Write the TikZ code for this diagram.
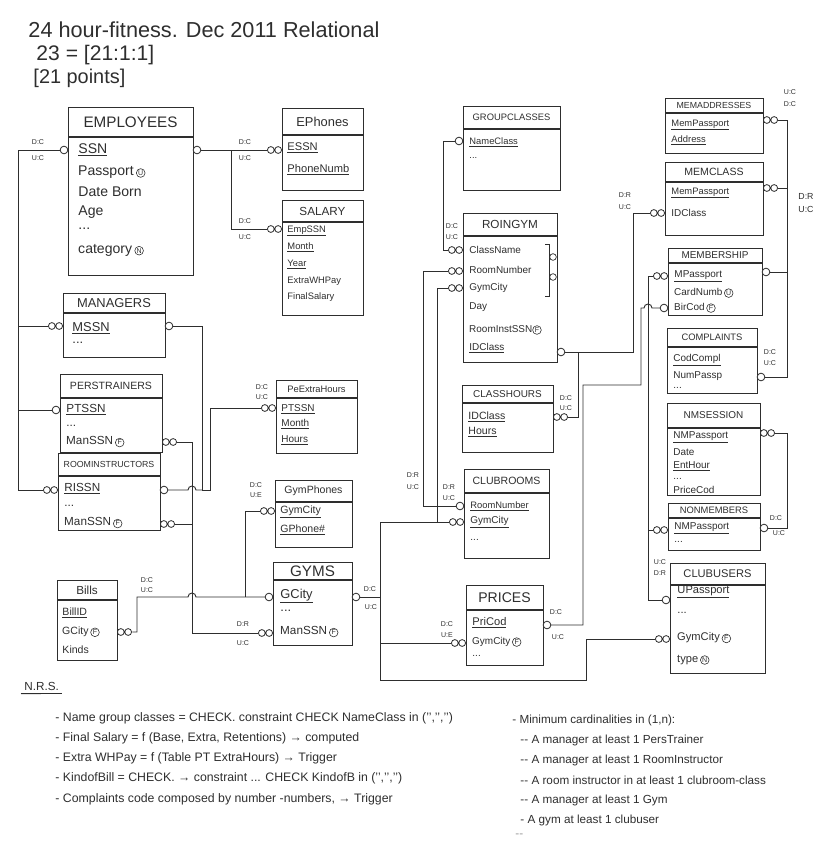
\documentclass[tikz,border=0pt]{standalone}
\usepackage{fontspec}
\setmainfont{Liberation Sans}
\newcommand\tabl[8]{%
  \node[tabbox, anchor=north west, minimum width={(#4-#2)*0.3mm}, minimum height={(#6-#3)*0.3mm}] (#1) at (#2,#3) {};
  \draw[line width=0.9pt] (#2,#5) -- (#4,#5);
  \node[hdr, fs=#7] (#1-h) at ({(#2+#4)/2},{(#3+#5)/2}) {#8};}
\newcommand\circmk[1]{\tikz[baseline=(cc.base)]\node[draw,circle,inner sep=0.5pt,minimum size=2.6mm,line width=0.5pt,font=\fontsize{6}{6}\selectfont](cc){#1};}
\begin{document}
\begin{tikzpicture}[x=0.3mm,y=-0.3mm,line width=0.8pt,color=black!82,
  tabbox/.style={draw, line width=0.9pt, inner sep=0pt},
  hdr/.style={inner sep=0pt},
  a/.style={anchor=west, inner sep=0pt},
  fs/.style={font=\fontsize{#1}{#1}\selectfont},
  card/.style={inner sep=0pt, font=\fontsize{6}{6}\selectfont},
  one/.style={circle, draw, fill=white, minimum size=2.3mm, inner sep=0pt, line width=0.7pt},
  many/.style={minimum width=4.5mm, minimum height=2.6mm, inner sep=0pt,
    path picture={\draw[line width=0.7pt] ([xshift=-1.1mm]path picture bounding box.center) circle[radius=1.02mm]
      ([xshift=1.1mm]path picture bounding box.center) circle[radius=1.02mm];}},
  conn/.style={line width=0.8pt},
  note/.style={anchor=west, inner sep=0pt, font=\fontsize{10.5}{11}\selectfont}]
\useasboundingbox (0,0) rectangle (838,848);

% ---------- title ----------
\node[anchor=west, inner sep=0pt, fs=18.5] (title) at (28,30) {24 hour-fitness. Dec 2011 Relational};
\node[anchor=west, inner sep=0pt, fs=18] (title2) at (36,55) {23 = [21:1:1]};
\node[anchor=west, inner sep=0pt, fs=17] (title3) at (33,78) {[21 points]};

% ---------- tables ----------
\tabl{emp}{68}{107}{193}{137}{275}{13}{EMPLOYEES}
\tabl{eph}{282}{108}{363}{135}{190}{11}{EPhones}
\tabl{sal}{282}{200}{363}{222}{315}{10}{SALARY}
\tabl{mgr}{63}{293}{165}{313}{357}{11}{MANAGERS}
\tabl{pt}{60}{374}{162}{398}{452}{9}{PERSTRAINERS}
\tabl{ri}{58}{453}{160}{476}{530}{7.5}{ROOMINSTRUCTORS}
\tabl{peh}{276}{380}{357}{398}{453}{8}{PeExtraHours}
\tabl{gph}{275}{480}{352}{502}{547}{9}{GymPhones}
\tabl{gym}{273}{562}{352}{580}{645}{13}{GYMS}
\tabl{bil}{57}{580}{117}{600}{660}{10}{Bills}
\tabl{gc}{463}{106}{560}{129}{190}{8}{GROUPCLASSES}
\tabl{rg}{463}{213}{557}{236}{362}{10}{ROINGYM}
\tabl{ch}{462}{385}{553}{403}{452}{8.5}{CLASSHOURS}
\tabl{cr}{464}{469}{549}{493}{558}{9}{CLUBROOMS}
\tabl{pr}{466}{585}{543}{610}{665}{12}{PRICES}
\tabl{ma}{665}{98}{763}{113}{153}{7.5}{MEMADDRESSES}
\tabl{mc}{665}{162}{763}{182}{235}{9}{MEMCLASS}
\tabl{ms}{668}{248}{762}{263}{315}{8.5}{MEMBERSHIP}
\tabl{co}{667}{328}{757}{347}{393}{8}{COMPLAINTS}
\tabl{ns}{667}{403}{760}{428}{495}{8.5}{NMSESSION}
\tabl{nm}{668}{503}{760}{518}{550}{8}{NONMEMBERS}
\tabl{cu}{670}{563}{765}{585}{673}{9.5}{CLUBUSERS}

% ---------- attributes ----------
\node[a,fs=12] (emp1) at (78,150) {\underline{SSN}};
\node[a,fs=12] (emp2) at (78,172) {Passport\,\circmk{U}};
\node[a,fs=12] (emp3) at (78,192) {Date Born};
\node[a,fs=12] (emp4) at (78,212) {Age};
\node[a,fs=12] (emp5) at (78,229) {...};
\node[a,fs=12] (emp6) at (78,250) {category\,\circmk{N}};

\node[a,fs=9.5] (eph1) at (287,148) {\underline{ESSN}};
\node[a,fs=9.5] (eph2) at (287,170) {\underline{PhoneNumb}};

\node[a,fs=8] (sal1) at (287,231) {\underline{EmpSSN}};
\node[a,fs=8] (sal2) at (287,247) {\underline{Month}};
\node[a,fs=8] (sal3) at (287,264) {\underline{Year}};
\node[a,fs=8] (sal4) at (287,281) {ExtraWHPay};
\node[a,fs=8] (sal5) at (287,297) {FinalSalary};

\node[a,fs=11] (mgr1) at (72,328) {\underline{MSSN}};
\node[a,fs=11] (mgr2) at (72,343) {...};

\node[a,fs=10] (pt1) at (66,410) {\underline{PTSSN}};
\node[a,fs=10] (pt2) at (66,426) {...};
\node[a,fs=10] (pt3) at (66,442) {ManSSN\,\circmk{F}};

\node[a,fs=10] (ri1) at (64,489) {\underline{RISSN}};
\node[a,fs=10] (ri2) at (64,506) {...};
\node[a,fs=10] (ri3) at (64,523) {ManSSN\,\circmk{F}};

\node[a,fs=8.5] (peh1) at (281,409) {\underline{PTSSN}};
\node[a,fs=8.5] (peh2) at (281,424) {\underline{Month}};
\node[a,fs=8.5] (peh3) at (281,440) {\underline{Hours}};

\node[a,fs=9] (gph1) at (280,512) {\underline{GymCity}};
\node[a,fs=9] (gph2) at (280,530) {\underline{GPhone\#}};

\node[a,fs=11] (gym1) at (280,596) {\underline{GCity}};
\node[a,fs=11] (gym2) at (280,611) {...};
\node[a,fs=10] (gym3) at (280,632) {ManSSN\,\circmk{F}};

\node[a,fs=9] (bil1) at (62,613) {\underline{BillID}};
\node[a,fs=9] (bil2) at (62,632) {GCity\,\circmk{F}};
\node[a,fs=9] (bil3) at (62,650) {Kinds};

\node[a,fs=8] (gc1) at (469,142) {\underline{NameClass}};
\node[a,fs=8] (gc2) at (469,158) {...};

\node[a,fs=8.5] (rg1) at (469,250) {ClassName};
\node[a,fs=8.5] (rg2) at (469,270) {RoomNumber};
\node[a,fs=8.5] (rg3) at (469,288) {GymCity};
\node[a,fs=8.5] (rg4) at (469,307) {Day};
\node[a,fs=8.5] (rg5) at (469,330) {RoomInstSSN\circmk{F}};
\node[a,fs=8.5] (rg6) at (469,348) {\underline{IDClass}};
\draw[line width=0.7pt] (545,244) -- (549,244) -- (549,296) -- (545,296);
\node[circle, draw, minimum size=2mm, inner sep=0pt, line width=0.6pt] (rgU1) at (553,257) {};
\node[circle, draw, minimum size=2mm, inner sep=0pt, line width=0.6pt] (rgU2) at (553,277) {};

\node[a,fs=9] (ch1) at (468,417) {\underline{IDClass}};
\node[a,fs=9] (ch2) at (468,432) {\underline{Hours}};

\node[a,fs=8] (cr1) at (470,506) {\underline{RoomNumber}};
\node[a,fs=8.5] (cr2) at (470,522) {\underline{GymCity}};
\node[a,fs=8.5] (cr3) at (470,540) {...};

\node[a,fs=9.5] (pr1) at (472,623) {\underline{PriCod}};
\node[a,fs=8.5] (pr2) at (472,642) {GymCity\,\circmk{F}};
\node[a,fs=8.5] (pr3) at (472,656) {...};

\node[a,fs=8] (ma1) at (671,125) {\underline{MemPassport}};
\node[a,fs=8] (ma2) at (671,140) {\underline{Address}};

\node[a,fs=8] (mc1) at (671,193) {\underline{MemPassport}};
\node[a,fs=8.5] (mc2) at (671,213) {IDClass};

\node[a,fs=8.5] (ms1) at (674,276) {\underline{MPassport}};
\node[a,fs=8.5] (ms2) at (674,293) {CardNumb\,\circmk{U}};
\node[a,fs=8.5] (ms3) at (674,308) {BirCod\,\circmk{F}};

\node[a,fs=8.5] (co1) at (673,360) {\underline{CodCompl}};
\node[a,fs=8.5] (co2) at (673,376) {NumPassp};
\node[a,fs=8.5] (co3) at (673,388) {...};

\node[a,fs=8.5] (ns1) at (673,437) {\underline{NMPassport}};
\node[a,fs=8.5] (ns2) at (673,452) {Date};
\node[a,fs=8.5] (ns3) at (673,466) {\underline{EntHour}};
\node[a,fs=8.5] (ns4) at (673,479) {...};
\node[a,fs=8.5] (ns5) at (673,490) {PriceCod};

\node[a,fs=8.5] (nm1) at (674,528) {\underline{NMPassport}};
\node[a,fs=8.5] (nm2) at (674,542) {...};

\node[a,fs=9.5] (cu1) at (677,592) {\underline{UPassport}};
\node[a,fs=9.5] (cu2) at (677,613) {...};
\node[a,fs=9.5] (cu3) at (677,638) {GymCity\,\circmk{F}};
\node[a,fs=9.5] (cu4) at (677,660) {type\,\circmk{N}};

% ---------- cardinality symbols ----------
\node[one] (eL) at (64,150) {};
\node[many] (mgrL) at (55.5,326) {};
\node[one] (ptL) at (56,410) {};
\node[many] (riL) at (50.5,490) {};
\node[one] (eR) at (197,150) {};
\node[many] (ephL) at (274.5,150) {};
\node[many] (salL) at (274.5,229) {};
\node[one] (mgrR) at (169,326) {};
\node[many] (ptR) at (169.5,442) {};
\node[one] (riR) at (164,490) {};
\node[many] (riR2) at (167.5,524) {};
\node[many] (pehL) at (268.5,408) {};
\node[many] (gpL) at (267.5,511) {};
\node[one] (gyL) at (269,597) {};
\node[many] (gyL2) at (265.5,633) {};
\node[one] (gyR) at (356,597) {};
\node[many] (biR) at (124.5,632) {};
\node[one] (gcL) at (459,141) {};
\node[many] (rgL1) at (455.5,250) {};
\node[many] (rgL2) at (455.5,271) {};
\node[many] (rgL3) at (455.5,288) {};
\node[one] (rgR) at (561,352) {};
\node[many] (chR) at (560.5,417) {};
\node[one] (crL1) at (460,506) {};
\node[many] (crL2) at (456.5,522) {};
\node[many] (prL) at (458.5,643) {};
\node[one] (prR) at (547,625) {};
\node[many] (maR) at (770.5,120) {};
\node[many] (mcL) at (657.5,213) {};
\node[many] (mcR) at (770.5,188) {};
\node[many] (msL) at (660.5,276) {};
\node[one] (msL2) at (664,308) {};
\node[one] (msR) at (766,272) {};
\node[one] (coR) at (761,377) {};
\node[many] (nsR) at (767.5,433) {};
\node[many] (nmL) at (660.5,530) {};
\node[one] (nmR) at (764,528) {};
\node[one] (cuL) at (666,600) {};
\node[many] (cuL2) at (662.5,639) {};

% ---------- connectors ----------
\coordinate (bus) at (18,150);
\draw[conn] (eL.west) -- (bus) -- (bus |- riL) -- (riL.west);
\draw[conn] (bus |- mgrL) -- (mgrL.west);
\draw[conn] (bus |- ptL) -- (ptL.west);

\coordinate (j2) at (231,150);
\draw[conn] (eR.east) -- (ephL.west);
\draw[conn] (j2) -- (j2 |- salL) -- (salL.west);

\coordinate (j3) at (202,326);
\coordinate (j3b) at (202,490);
\coordinate (j4) at (210,408);
\draw[conn] (mgrR.east) -- (j3) -- (j3b);
\draw[conn] (riR.east) -- (188,490) arc[start angle=180,end angle=360,radius=4] -- (j3b);
\draw[conn] (pehL.west) -- (j4) -- (j4 |- j3b) -- (j3b);

\coordinate (j5) at (192,442);
\coordinate (j5b) at (192,633);
\draw[conn] (ptR.east) -- (j5) -- (j5b) -- (gyL2.west);
\draw[conn] (riR2.east) -- (j5 |- riR2);

\coordinate (j6) at (245,597);
\coordinate (j6b) at (137,597);
\draw[conn] (biR.east) -- (j6b |- biR) -- (j6b) -- (188,597) arc[start angle=180,end angle=360,radius=4] -- (j6) -- (gyL.west);
\draw[conn] (j6) -- (j6 |- gpL) -- (gpL.west);

\coordinate (j7) at (380,597);
\coordinate (j7a) at (380,522);
\coordinate (j7b) at (380,680);
\coordinate (j8) at (586,680);
\draw[conn] (gyR.east) -- (j7);
\draw[conn] (crL2.west) -- (j7a) -- (j7b) -- (j8) -- (j8 |- cuL2) -- (cuL2.west);
\draw[conn] (j7 |- prL) -- (prL.west);

\coordinate (j9a) at (443,141);
\coordinate (j9b) at (423,271);
\coordinate (j9c) at (437,288);
\draw[conn] (gcL.west) -- (j9a) -- (j9a |- rgL1) -- (rgL1.west);
\draw[conn] (rgL2.west) -- (j9b) -- (j9b |- crL1) -- (crL1.west);
\draw[conn] (rgL3.west) -- (j9c) -- (j9c |- crL2) -- (crL2.west);

\coordinate (j10) at (578,352);
\coordinate (j10b) at (633,352);
\draw[conn] (rgR.east) -- (j10) -- (j10 |- chR) -- (chR.east);
\draw[conn] (j10) -- (j10b) -- (j10b |- mcL) -- (mcL.west);

\coordinate (j11) at (583,385);
\coordinate (j11b) at (641,385);
\draw[conn] (prR.east) -- (j11 |- prR) -- (j11) -- (j11b) -- (j11b |- msL2) -- (644,308) arc[start angle=180,end angle=360,radius=4] -- (msL2.west);

\coordinate (j12) at (648,276);
\draw[conn] (msL.west) -- (j12) -- (j12 |- cuL) -- (cuL.west);
\draw[conn] (nmL.west) -- (j12 |- nmL);

\coordinate (j13) at (787,120);
\draw[conn] (maR.east) -- (j13) -- (j13 |- coR) -- (coR.east);
\draw[conn] (mcR.east) -- (j13 |- mcR);
\draw[conn] (msR.east) -- (j13 |- msR);
\coordinate (j14) at (787,433);
\draw[conn] (nsR.east) -- (j14) -- (j14 |- nmR) -- (nmR.east);

% ---------- cardinality labels ----------
\node[card] (l1a) at (38,142) {D:C};   \node[card] (l1b) at (38,158) {U:C};
\node[card] (l2a) at (245,142) {D:C};  \node[card] (l2b) at (245,158) {U:C};
\node[card] (l3a) at (245,221) {D:C};  \node[card] (l3b) at (245,237) {U:C};
\node[card] (l4a) at (262,387) {D:C};  \node[card] (l4b) at (262,397) {U:C};
\node[card] (l5a) at (256,485) {D:C};  \node[card] (l5b) at (256,495) {U:E};
\node[card] (l6a) at (147,580) {D:C};  \node[card] (l6b) at (147,590) {U:C};
\node[card] (l7a) at (243,624) {D:R};  \node[card] (l7b) at (243,643) {U:C};
\node[card] (l8a) at (370,589) {D:C};  \node[card] (l8b) at (371,607) {U:C};
\node[card] (l9a) at (452,226) {D:C};  \node[card] (l9b) at (452,237) {U:C};
\node[card] (l10a) at (413,475) {D:R}; \node[card] (l10b) at (413,487) {U:C};
\node[card] (l11a) at (449,487) {D:R}; \node[card] (l11b) at (449,498) {U:C};
\node[card] (l12a) at (566,398) {D:C}; \node[card] (l12b) at (566,408) {U:C};
\node[card] (l13a) at (447,624) {D:C}; \node[card] (l13b) at (447,635) {U:E};
\node[card] (l14a) at (556,612) {D:C}; \node[card] (l14b) at (558,637) {U:C};
\node[card] (l15a) at (625,195) {D:R}; \node[card] (l15b) at (625,207) {U:C};
\node[card] (l16a) at (790,92) {U:C};  \node[card] (l16b) at (790,104) {D:C};
\node[card, fs=7.5] (l17a) at (806,196) {D:R}; \node[card, fs=7.5] (l17b) at (806,209) {U:C};
\node[card] (l18a) at (770,352) {D:C}; \node[card] (l18b) at (770,363) {U:C};
\node[card] (l19a) at (776,518) {D:C}; \node[card] (l19b) at (779,533) {U:C};
\node[card] (l20a) at (660,562) {U:C}; \node[card] (l20b) at (660,573) {D:R};

% ---------- notes ----------
\node[anchor=west, inner sep=0pt, fs=10] (nrs) at (24,686) {N.R.S.};
\draw[line width=0.7pt] (nrs.south west) ++(-3,3) coordinate (u1) -- ([xshift=2pt,yshift=-2.5pt]nrs.south east);
\node[note] (n1) at (55,718) {- Name group classes = CHECK. constraint CHECK NameClass in ('{}',{}'{}',{}'{}')};
\node[note] (n2) at (55,738) {- Final Salary = f (Base, Extra, Retentions) → computed};
\node[note] (n3) at (55,758) {- Extra WHPay = f (Table PT ExtraHours) → Trigger};
\node[note] (n4) at (55,778) {- KindofBill = CHECK. → constraint ... CHECK KindofB in ('{}',{}'{}',{}'{}')};
\node[note] (n5) at (55,799) {- Complaints code composed by number -numbers, → Trigger};

\node[note, fs=10] (m1) at (512,720) {- Minimum cardinalities in (1,n):};
\node[note, fs=10] (m2) at (520,740) {-{}- A manager at least 1 PersTrainer};
\node[note, fs=10] (m3) at (520,760) {-{}- A manager at least 1 RoomInstructor};
\node[note, fs=10] (m4) at (520,780) {-{}- A room instructor in at least 1 clubroom-class};
\node[note, fs=10] (m5) at (520,800) {-{}- A manager at least 1 Gym};
\node[note, fs=10] (m6) at (520,820) {- A gym at least 1 clubuser};
\node[note, fs=10, text=black!40] (m7) at (515,836) {-{}-};
\end{tikzpicture}
\end{document}
